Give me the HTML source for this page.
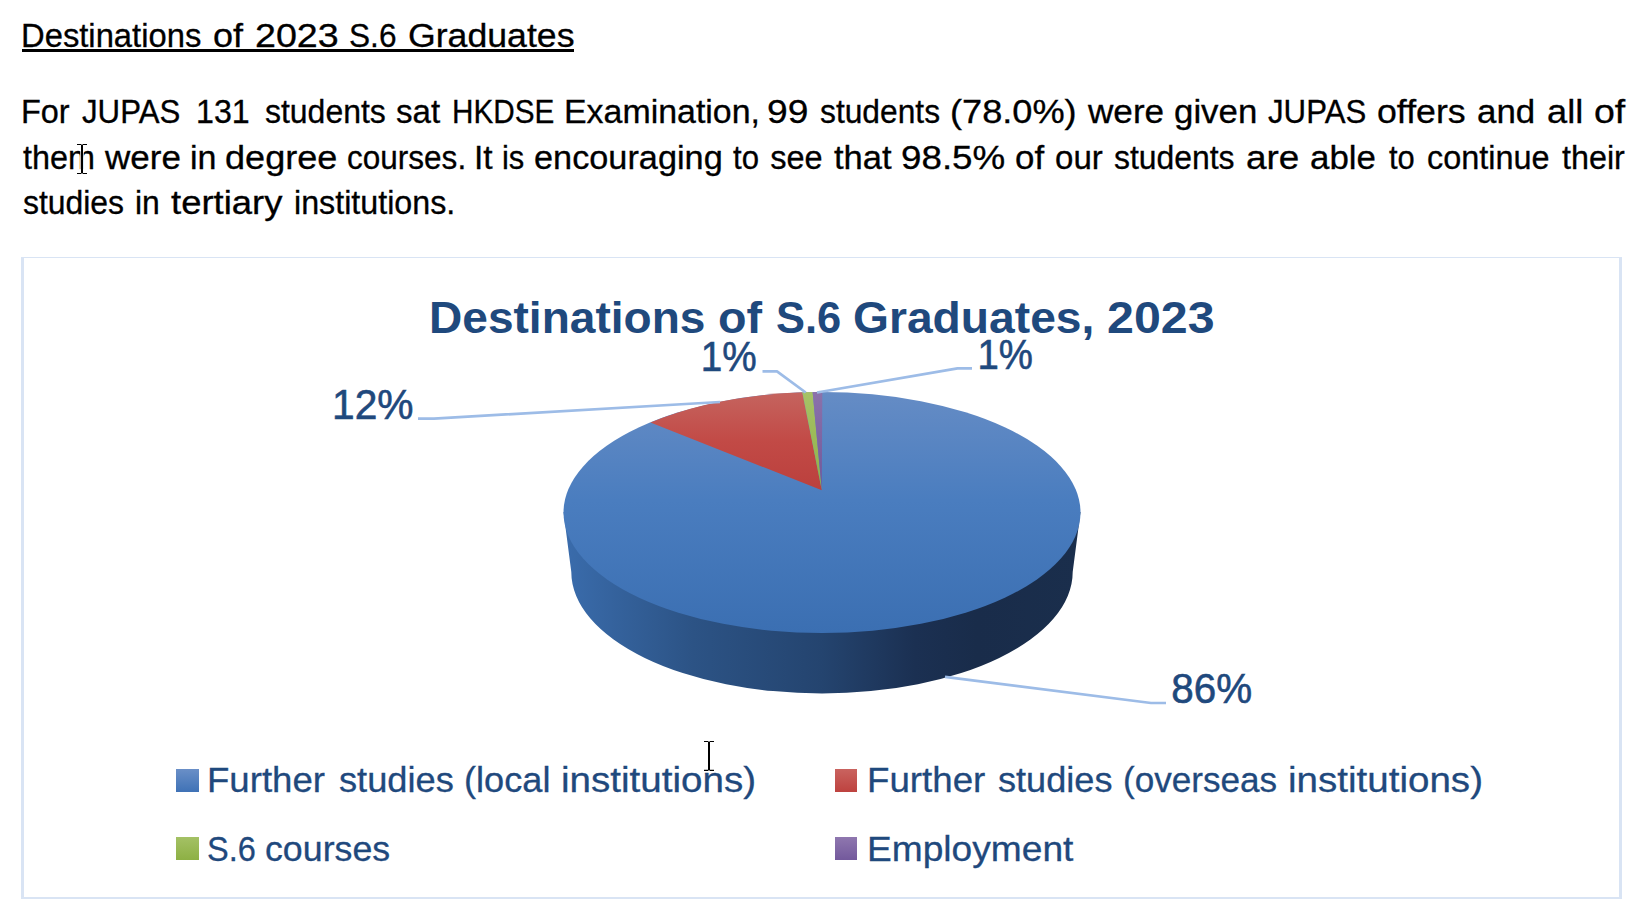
<!DOCTYPE html>
<html lang="en">
<head>
<meta charset="utf-8">
<title>Destinations of 2023 S.6 Graduates</title>
<style>
html,body{margin:0;padding:0;background:#fff;}
body{width:1641px;height:917px;position:relative;overflow:hidden;font-family:"Liberation Sans",sans-serif;color:#000;}
.tl{position:absolute;left:0;margin:0;width:1641px;height:40px;font-size:32.5px;line-height:40px;white-space:nowrap;-webkit-text-stroke:0.3px currentColor;}
.ct{font-size:44px;font-weight:bold;color:#1f497d;-webkit-text-stroke:0;}
.lg{font-size:35.5px;color:#1f497d;-webkit-text-stroke:0.3px #1f497d;}
.tl span{position:absolute;top:0;display:inline-block;transform-origin:0 0;white-space:nowrap;}
#ul{position:absolute;left:22px;top:49px;width:551.5px;height:3px;background:#000;}
#chart{position:absolute;left:21px;top:257px;width:1595px;height:639px;border-style:solid;border-color:#d9e4f4;border-width:1.5px 3px 2.5px 3px;box-sizing:content-box;}
svg{position:absolute;left:0;top:0;}
svg text{font-family:"Liberation Sans",sans-serif;fill:#1f497d;}
</style>
</head>
<body>
<!--TEXT-->
<p class="tl" style="top:16.2px"><span style="left:21.0px;transform:scaleX(1.008)">Destinations</span> <span style="left:212.5px;transform:scaleX(1.108)">of</span> <span style="left:255.1px;transform:scaleX(1.158)">2023</span> <span style="left:349.1px;transform:scaleX(0.973)">S.6</span> <span style="left:407.6px;transform:scaleX(1.097)">Graduates</span></p>
<p class="tl" style="top:92px"><span style="left:20.8px;transform:scaleX(0.998)">For</span> <span style="left:82.2px;transform:scaleX(0.960)">JUPAS</span> <span style="left:195.5px;transform:scaleX(0.990)">131</span> <span style="left:265.0px;transform:scaleX(0.983)">students</span> <span style="left:396.2px;transform:scaleX(1.019)">sat</span> <span style="left:452.3px;transform:scaleX(0.914)">HKDSE</span> <span style="left:564.3px;transform:scaleX(1.043)">Examination,</span> <span style="left:767.3px;transform:scaleX(1.144)">99</span> <span style="left:820.2px;transform:scaleX(0.977)">students</span> <span style="left:949.7px;transform:scaleX(1.113)">(78.0%)</span> <span style="left:1087.8px;transform:scaleX(1.081)">were</span> <span style="left:1174.3px;transform:scaleX(1.072)">given</span> <span style="left:1267.8px;transform:scaleX(0.960)">JUPAS</span> <span style="left:1376.9px;transform:scaleX(1.099)">offers</span> <span style="left:1477.2px;transform:scaleX(1.073)">and</span> <span style="left:1546.9px;transform:scaleX(1.114)">all</span> <span style="left:1593.8px;transform:scaleX(1.154)">of</span></p>
<p class="tl" style="top:137.8px"><span style="left:23.3px;transform:scaleX(0.996)">them</span> <span style="left:105.0px;transform:scaleX(1.078)">were</span> <span style="left:190.3px;transform:scaleX(1.048)">in</span> <span style="left:225.0px;transform:scaleX(1.110)">degree</span> <span style="left:347.3px;transform:scaleX(0.970)">courses.</span> <span style="left:473.8px;transform:scaleX(1.033)">It</span> <span style="left:502.2px;transform:scaleX(0.950)">is</span> <span style="left:534.3px;transform:scaleX(1.055)">encouraging</span> <span style="left:732.6px;transform:scaleX(0.958)">to</span> <span style="left:770.2px;transform:scaleX(1.000)">see</span> <span style="left:833.7px;transform:scaleX(1.063)">that</span> <span style="left:901.3px;transform:scaleX(1.131)">98.5%</span> <span style="left:1014.5px;transform:scaleX(1.073)">of</span> <span style="left:1055.0px;transform:scaleX(1.017)">our</span> <span style="left:1113.8px;transform:scaleX(0.981)">students</span> <span style="left:1245.6px;transform:scaleX(1.136)">are</span> <span style="left:1309.9px;transform:scaleX(1.073)">able</span> <span style="left:1388.5px;transform:scaleX(0.950)">to</span> <span style="left:1427.0px;transform:scaleX(0.998)">continue</span> <span style="left:1561.6px;transform:scaleX(0.994)">their</span></p>
<p class="tl" style="top:183.3px"><span style="left:22.5px;transform:scaleX(0.981)">studies</span> <span style="left:134.9px;transform:scaleX(0.981)">in</span> <span style="left:171.0px;transform:scaleX(1.122)">tertiary</span> <span style="left:294.4px;transform:scaleX(0.992)">institutions.</span></p>
<div id="ul"></div>
<!--/TEXT-->
<div id="chart"></div>
<!--TITLE-->
<p class="tl ct" style="top:297.6px"><span style="left:429.4px;transform:scaleX(1.047)">Destinations</span> <span style="left:717.9px;transform:scaleX(1.062)">of</span> <span style="left:775.5px;transform:scaleX(0.987)">S.6</span> <span style="left:852.9px;transform:scaleX(1.050)">Graduates,</span> <span style="left:1106.5px;transform:scaleX(1.099)">2023</span></p>
<!--/TITLE-->
<!--LEGEND-->
<p class="tl lg" style="top:759.7px"><span style="left:207.4px;transform:scaleX(1.031)">Further</span> <span style="left:338.9px;transform:scaleX(1.021)">studies</span> <span style="left:464.1px;transform:scaleX(1.019)">(local</span> <span style="left:560.8px;transform:scaleX(1.087)">institutions)</span></p>
<p class="tl lg" style="top:759.7px"><span style="left:866.7px;transform:scaleX(1.034)">Further</span> <span style="left:997.8px;transform:scaleX(1.018)">studies</span> <span style="left:1123.3px;transform:scaleX(0.989)">(overseas</span> <span style="left:1287.8px;transform:scaleX(1.086)">institutions)</span></p>
<p class="tl lg" style="top:828.7px"><span style="left:206.9px;transform:scaleX(0.916)">S.6</span> <span style="left:265.0px;transform:scaleX(1.007)">courses</span></p>
<p class="tl lg" style="top:828.7px"><span style="left:866.9px;transform:scaleX(1.046)">Employment</span></p>
<!--/LEGEND-->
<svg width="1641" height="917" viewBox="0 0 1641 917">
<defs>
<linearGradient id="gTop" gradientUnits="userSpaceOnUse" x1="0" y1="392" x2="0" y2="633">
<stop offset="0" stop-color="#658cc5"/><stop offset="0.45" stop-color="#4a7dbf"/><stop offset="1" stop-color="#3b6fb2"/>
</linearGradient>
<linearGradient id="gSide" gradientUnits="userSpaceOnUse" x1="564" y1="0" x2="1080" y2="0">
<stop offset="0" stop-color="#3a6cac"/><stop offset="0.25" stop-color="#2c5385"/><stop offset="0.5" stop-color="#24446f"/><stop offset="0.68" stop-color="#1b3052"/><stop offset="0.8" stop-color="#192c4a"/><stop offset="1" stop-color="#1a2e4c"/>
</linearGradient>
<linearGradient id="gRed" gradientUnits="userSpaceOnUse" x1="0" y1="392" x2="0" y2="490">
<stop offset="0" stop-color="#c5645f"/><stop offset="0.5" stop-color="#c24a46"/><stop offset="1" stop-color="#bb403d"/>
</linearGradient>
<linearGradient id="gGreen" gradientUnits="userSpaceOnUse" x1="0" y1="392" x2="0" y2="490">
<stop offset="0" stop-color="#a6c267"/><stop offset="1" stop-color="#8fb147"/>
</linearGradient>
<linearGradient id="gPurple" gradientUnits="userSpaceOnUse" x1="0" y1="392" x2="0" y2="490">
<stop offset="0" stop-color="#8b72ab"/><stop offset="1" stop-color="#70579a"/>
</linearGradient>
<linearGradient id="lBlue" x1="0" y1="0" x2="0" y2="1"><stop offset="0" stop-color="#6a8fc7"/><stop offset="1" stop-color="#3f72b6"/></linearGradient>
<linearGradient id="lRed" x1="0" y1="0" x2="0" y2="1"><stop offset="0" stop-color="#c9635f"/><stop offset="1" stop-color="#be423f"/></linearGradient>
<linearGradient id="lGreen" x1="0" y1="0" x2="0" y2="1"><stop offset="0" stop-color="#a4c165"/><stop offset="1" stop-color="#8db044"/></linearGradient>
<linearGradient id="lPurple" x1="0" y1="0" x2="0" y2="1"><stop offset="0" stop-color="#8f77af"/><stop offset="1" stop-color="#73599c"/></linearGradient>
</defs>
<!-- pie side -->
<g fill="url(#gSide)">
<path d="M563.5,512 L571.3,572 A250.7 121.5 0 0 0 1072.7,572 L1080.5,512 Z"/>
</g>
<!-- pie top -->
<ellipse cx="822" cy="512.5" rx="258.5" ry="120.5" fill="url(#gTop)"/>
<path d="M821.8,490.2 L650.5,422.6 A258.5 120.5 0 0 1 802.3,392.35 Z" fill="url(#gRed)"/>
<path d="M821.8,490.2 L802.3,392.35 A258.5 120.5 0 0 1 812.6,392.1 Z" fill="url(#gGreen)"/>
<path d="M821.8,490.2 L812.6,392.1 A258.5 120.5 0 0 1 822.3,392 Z" fill="url(#gPurple)"/>
<!-- leader lines -->
<g fill="none" stroke="#9dbce7" stroke-width="2.7" stroke-linejoin="round">
<polyline points="418,418.6 434,418.6 720,402"/>
<polyline points="762.5,371.4 777,371.4 805.7,392.5"/>
<polyline points="817,392.5 957.5,368.4 972,368.4"/>
<polyline points="945,676.8 1151,703 1166,703"/>
</g>
<!-- data labels -->
<g font-size="42.5" stroke="#1f497d" stroke-width="0.6">
<text x="332" y="419" textLength="81.5" lengthAdjust="spacingAndGlyphs">12%</text>
<text x="700.8" y="371.3" textLength="56" lengthAdjust="spacingAndGlyphs">1%</text>
<text x="977.5" y="368.8" textLength="55.5" lengthAdjust="spacingAndGlyphs">1%</text>
<text x="1171.3" y="703" textLength="80.8" lengthAdjust="spacingAndGlyphs">86%</text>
</g>
<!-- legend -->
<rect x="176" y="769" width="23" height="23" fill="url(#lBlue)"/>
<rect x="835" y="769" width="22" height="23" fill="url(#lRed)"/>
<rect x="176" y="837" width="23" height="23" fill="url(#lGreen)"/>
<rect x="835" y="837" width="22" height="23" fill="url(#lPurple)"/>
<!-- I-beam cursors -->
<g fill="none" stroke-linecap="butt">
<g stroke="#fff" stroke-width="3.4"><path d="M82,144.5 V173.5 M77,144.5 H87 M77,173.5 H87"/></g>
<g stroke="#000"><path d="M82,144.5 V173.5" stroke-width="2"/><path d="M77,144.5 H81 M83,144.5 H87 M77,173.5 H81 M83,173.5 H87" stroke-width="1.2"/></g>
<g stroke="#000"><path d="M709,741.5 V770.5" stroke-width="2"/><path d="M704,741.5 H708 M710,741.5 H714 M704,770.3 H708 M710,770.3 H714" stroke-width="1.2"/></g>
</g>
</svg>
</body>
</html>
